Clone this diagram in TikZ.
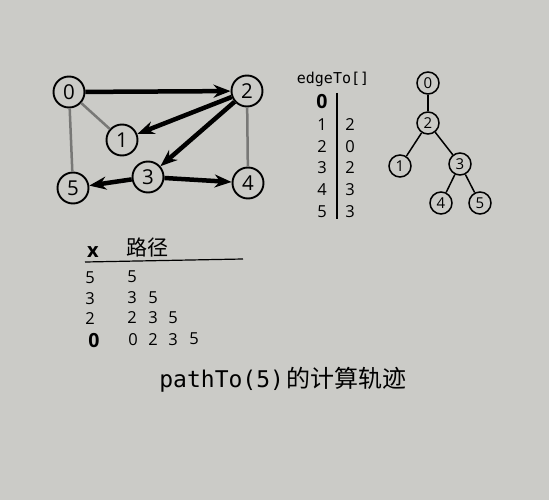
\documentclass[tikz,border=0pt]{standalone}
\usepackage{fontspec}
\setmainfont{Open Sans}
\newfontfamily\cjk{Noto Sans CJK SC}
\newfontfamily\mono{DejaVu Sans Mono}
\usetikzlibrary{arrows.meta}
\definecolor{bgc}{RGB}{203,203,199}
\definecolor{edgegray}{RGB}{120,120,118}
\begin{document}
\begin{tikzpicture}[x=1pt,y=-1pt,
  gnode/.style={circle,draw,line width=1.9pt,minimum size=31pt,inner sep=0pt,font=\fontsize{20.5}{20.5}\selectfont},
  tnode/.style={circle,draw,line width=1.5pt,minimum size=22pt,inner sep=0pt,font=\fontsize{15}{15}\selectfont},
  treearrow/.style={line width=4.5pt,-{Stealth[length=17pt,width=13pt]}},
  nontree/.style={line width=2.5pt,edgegray},
  tline/.style={line width=1.5pt},
  num/.style={font=\fontsize{16.5}{16.5}\selectfont,inner sep=0pt},
  bignum/.style={font=\fontsize{19.5}{19.5}\selectfont\bfseries,inner sep=0pt}]
\fill[bgc] (0,0) rectangle (549,500);
\useasboundingbox (0,0) rectangle (549,500);
% graph
\node[gnode] (g0) at (69,92) {0};
\node[gnode] (g2) at (247,91) {2};
\node[gnode] (g1) at (122,140) {1};
\node[gnode] (g3) at (148,177) {3};
\node[gnode] (g4) at (248,183) {4};
\node[gnode] (g5) at (73,188) {5};
\draw[nontree] (g0) -- (g1);
\draw[nontree] (g0) -- (g5);
\draw[nontree] (g2) -- (g4);
\draw[treearrow] (g0) -- (g2);
\draw[treearrow] (g2) -- (g1);
\draw[treearrow] (g2) -- (g3);
\draw[treearrow] (g3) -- (g5);
\draw[treearrow] (g3) -- (g4);
% edgeTo table
\node[font=\mono\fontsize{15}{15}\selectfont,inner sep=0pt] (etitle) at (333,79) {edgeTo[]};
\node[bignum] (e0) at (322,102) {0};
\node[num] (e1) at (322,125) {1};
\node[num] (e2) at (322,147) {2};
\node[num] (e3) at (322,168) {3};
\node[num] (e4) at (322,190) {4};
\node[num] (e5) at (322,212) {5};
\node[num] (f1) at (350,125) {2};
\node[num] (f2) at (350,147) {0};
\node[num] (f3) at (350,168) {2};
\node[num] (f4) at (350,190) {3};
\node[num] (f5) at (350,212) {3};
\coordinate (vtop) at (337,93);
\coordinate (vbot) at (337,219);
\draw[line width=1.5pt] (vtop) -- (vbot);
% tree
\node[tnode] (t0) at (428,83) {0};
\node[tnode] (t2) at (428,123) {2};
\node[tnode] (t1) at (400,166) {1};
\node[tnode] (t3) at (460,164) {3};
\node[tnode] (t4) at (441,203) {4};
\node[tnode] (t5) at (480,203) {5};
\draw[tline] (t0) -- (t2);
\draw[tline] (t2) -- (t1);
\draw[tline] (t2) -- (t3);
\draw[tline] (t3) -- (t4);
\draw[tline] (t3) -- (t5);
% path table
\node[font=\fontsize{20}{20}\selectfont\bfseries,inner sep=0pt] (hx) at (93,252) {x};
\node[font=\cjk\fontsize{21}{21}\selectfont,inner sep=0pt] (hp) at (147,248) {路径};
\coordinate (hl) at (85,262);
\coordinate (hr) at (243,259);
\draw[line width=1.2pt] (hl) -- (hr);
\node[num] (x1) at (90,278) {5};
\node[num] (x2) at (90,299) {3};
\node[num] (x3) at (90,319) {2};
\node[bignum] (x4) at (94,341) {0};
\node[num] (p11) at (132,277) {5};
\node[num] (p21) at (132,298) {3};
\node[num] (p22) at (153,298) {5};
\node[num] (p31) at (132,318) {2};
\node[num] (p32) at (153,318) {3};
\node[num] (p33) at (173,318) {5};
\node[num] (p41) at (133,340) {0};
\node[num] (p42) at (153,340) {2};
\node[num] (p43) at (173,340) {3};
\node[num] (p44) at (194,339) {5};
% caption
\node[inner sep=0pt,anchor=base] (cap) at (283,387) {{\mono\fontsize{23}{23}\selectfont pathTo(5)} {\cjk\fontsize{24}{24}\selectfont 的计算轨迹}};
\end{tikzpicture}
\end{document}
